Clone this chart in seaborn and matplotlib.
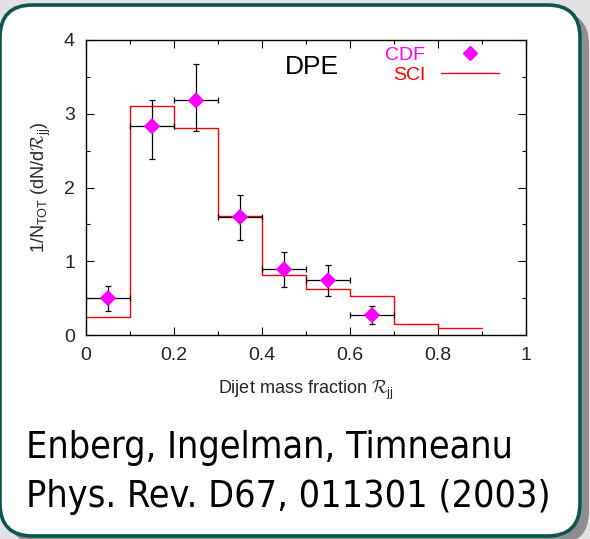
import numpy as np
import pandas as pd
import matplotlib
matplotlib.use("Agg")
import matplotlib.pyplot as plt
from matplotlib.patches import FancyBboxPatch
from matplotlib.lines import Line2D
import seaborn as sns

# CDF measurement (bin centres, values, asymmetric errors)
cdf_x = [0.05, 0.15, 0.25, 0.35, 0.45, 0.55, 0.65]
cdf_y = [0.50, 2.83, 3.18, 1.60, 0.89, 0.74, 0.27]
cdf_err_up = [0.16, 0.35, 0.49, 0.30, 0.24, 0.21, 0.12]
cdf_err_dn = [0.17, 0.45, 0.41, 0.31, 0.24, 0.21, 0.12]
cdf_xerr = [0.05, 0.05, 0.05, 0.05, 0.05, 0.05, 0.05]

# SCI model histogram
sci_edges = [0.0, 0.1, 0.2, 0.3, 0.4, 0.5, 0.6, 0.7, 0.8, 0.9]
sci_vals = [0.24, 3.10, 2.81, 1.62, 0.81, 0.62, 0.525, 0.145, 0.095]

x_ticks = [0, 0.2, 0.4, 0.6, 0.8, 1]
x_ticklabels = ["0", "0.2", "0.4", "0.6", "0.8", "1"]
y_ticks = [0, 1, 2, 3, 4]

sns.set_style("ticks")
plt.rcParams["font.family"] = ["Liberation Sans", "DejaVu Sans"]
plt.rcParams["mathtext.fontset"] = "custom"
plt.rcParams["mathtext.rm"] = "Liberation Sans"
plt.rcParams["mathtext.it"] = "Liberation Sans:italic"
plt.rcParams["mathtext.cal"] = "cmsy10"

W, H = 590, 539
fig = plt.figure(figsize=(W / 100, H / 100), dpi=100)
fig.patch.set_facecolor("#e2e2e2")

# rounded panel with drop shadow
def px_box(x0, y0, x1, y1, **kw):
    return FancyBboxPatch((x0 / W, 1 - y1 / H), (x1 - x0) / W, (y1 - y0) / H,
                          boxstyle="round,pad=0,rounding_size=0.055",
                          transform=fig.transFigure, mutation_aspect=W / H, **kw)

fig.patches.append(px_box(8, 12, 589, 544, facecolor="#8e8e8e", edgecolor="none", zorder=0))
fig.patches.append(px_box(0, 5, 580, 536, facecolor="white", edgecolor="#0e5550",
                          linewidth=2.6, zorder=1))

ax = fig.add_axes([86 / W, 1 - 335 / H, 440 / W, 295 / H])
ax.set_facecolor("white")
ax.set_zorder(2)

# SCI histogram outline
centers = [(a + b) / 2 for a, b in zip(sci_edges[:-1], sci_edges[1:])]
sns.histplot(x=centers, weights=sci_vals, bins=sci_edges, element="step", fill=False,
             color="red", linewidth=1.0, ax=ax, zorder=2)

# CDF points with error bars
ax.errorbar(cdf_x, cdf_y, yerr=[cdf_err_dn, cdf_err_up], xerr=cdf_xerr, fmt="none",
            ecolor="black", elinewidth=0.9, capsize=2.5, capthick=0.9, zorder=3)
df = pd.DataFrame({"x": cdf_x, "y": cdf_y})
sns.scatterplot(data=df, x="x", y="y", marker="D", color="magenta", s=70,
                edgecolor="none", ax=ax, zorder=4)

ax.set_xlim(0, 1)
ax.set_ylim(0, 4)
ax.set_xticks(x_ticks)
ax.set_xticklabels(x_ticklabels)
ax.set_yticks(y_ticks)
ax.set_xticks(np.arange(0.1, 1.0, 0.2), minor=True)
ax.set_yticks(np.arange(0.5, 4.0, 1.0), minor=True)
ax.tick_params(which="both", direction="in", top=True, right=True, labelsize=14,
               color="black", width=0.8)
ax.tick_params(which="major", length=6)
ax.tick_params(axis="x", which="major", pad=9)
ax.tick_params(axis="y", which="major", pad=8)
ax.tick_params(which="minor", length=3)
for s in ax.spines.values():
    s.set_visible(True)
    s.set_linewidth(1.0)
    s.set_color("black")

ax.set_xlabel(r"Dijet mass fraction $\mathcal{R}_{\rm jj}$", fontsize=13, labelpad=10)
ax.set_ylabel(r"1/N$_{\rm TOT}$ (dN/d$\mathcal{R}_{\rm jj}$)", fontsize=13, labelpad=8)

ax.text(0.452, 3.63, "DPE", fontsize=19, color="black", ha="left", va="center")

handles = [Line2D([], [], marker="D", color="magenta", linestyle="none", markersize=7),
           Line2D([], [], color="red", linewidth=1.0)]
ax.legend(handles, ["CDF", "SCI"], loc="upper right", bbox_to_anchor=(0.97, 1.025),
          frameon=False, markerfirst=False, fontsize=14, labelcolor=["magenta", "red"],
          handlelength=3.0, handletextpad=0.8, labelspacing=0.12, borderaxespad=0.3)

fig.text(26 / W, 1 - 448 / H, "Enberg, Ingelman, Timneanu", fontsize=27,
         family="DejaVu Sans", fontstretch="condensed", color="black",
         va="center", ha="left", zorder=3)
fig.text(26 / W, 1 - 497 / H, "Phys. Rev. D67, 011301 (2003)", fontsize=27,
         family="DejaVu Sans", fontstretch="condensed", color="black",
         va="center", ha="left", zorder=3)

fig.savefig("out.png", dpi=100, facecolor=fig.get_facecolor())
